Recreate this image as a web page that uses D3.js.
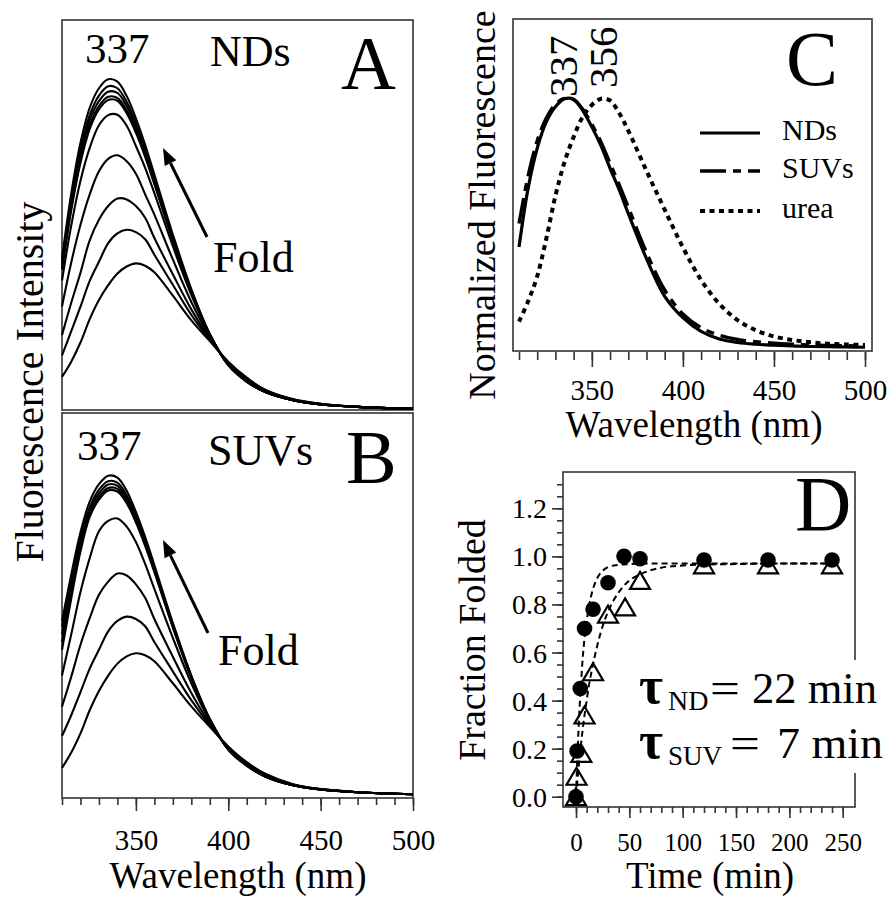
<!DOCTYPE html>
<html><head><meta charset="utf-8">
<script src="https://cdn.jsdelivr.net/npm/d3@7"></script>
<style>
body{margin:0;background:#fff}
svg{display:block}
</style></head><body>
<svg id="fig" width="894" height="898"></svg>
<script>
// ---- emission wavelengths (nm) shared by the spectra in A and B
const wavelengths = [310, 315, 320, 325, 330, 335, 340, 345, 350, 355, 360, 370, 380, 390, 400, 410, 420, 435, 450, 470, 500];

// ---- A: folding into nanodiscs, intensity (a.u.) at each wavelength
const spectraND = [
  [39.0, 55.5, 68.5, 77.5, 82.5, 84.8, 84.2, 80.5, 74.8, 68.0, 60.4, 45.0, 31.0, 19.5, 11.5, 7.3, 4.6, 2.5, 1.4, 0.8, 0.3],
  [37.9, 54.0, 66.7, 75.6, 80.6, 83.0, 82.5, 79.0, 73.5, 66.9, 59.5, 44.5, 30.7, 19.4, 11.5, 7.3, 4.6, 2.5, 1.4, 0.8, 0.3],
  [37.2, 52.9, 65.4, 74.3, 79.2, 81.6, 81.3, 77.9, 72.6, 66.1, 58.9, 44.1, 30.5, 19.4, 11.6, 7.3, 4.6, 2.5, 1.4, 0.8, 0.3],
  [36.4, 51.8, 64.1, 72.9, 77.9, 80.3, 80.0, 76.8, 71.6, 65.4, 58.3, 43.7, 30.3, 19.3, 11.6, 7.3, 4.6, 2.5, 1.4, 0.8, 0.3],
  [36.0, 51.2, 63.4, 72.1, 77.1, 79.5, 79.3, 76.1, 71.1, 64.9, 57.9, 43.4, 30.2, 19.3, 11.6, 7.4, 4.7, 2.5, 1.4, 0.8, 0.3],
  [33.2, 47.3, 58.8, 67.2, 73.0, 75.6, 75.7, 72.9, 67.7, 62.1, 55.6, 42.0, 29.5, 19.2, 11.7, 7.5, 4.7, 2.6, 1.4, 0.8, 0.3],
  [26.5, 37.8, 47.5, 55.3, 61.2, 64.4, 65.3, 63.8, 60.6, 55.3, 50.1, 38.6, 27.7, 18.8, 11.9, 7.7, 4.8, 2.6, 1.5, 0.8, 0.3],
  [19.2, 27.5, 35.2, 43.5, 48.8, 52.3, 54.2, 54.0, 52.3, 49.3, 44.1, 34.8, 25.8, 18.3, 12.1, 8.0, 5.0, 2.7, 1.5, 0.8, 0.3],
  [14.0, 20.2, 26.5, 33.1, 38.0, 42.8, 45.3, 46.2, 45.6, 43.8, 39.8, 32.1, 24.4, 18.0, 12.2, 8.1, 5.1, 2.7, 1.6, 0.8, 0.3],
  [8.5, 12.4, 17.3, 23.3, 28.2, 32.0, 35.0, 36.8, 37.6, 37.0, 35.3, 29.3, 23.0, 17.7, 12.4, 8.3, 5.2, 2.8, 1.6, 0.8, 0.3]
];

// ---- B: folding into small unilamellar vesicles
const spectraSUV = [
  [46.0, 58.0, 69.0, 77.0, 81.5, 83.7, 83.2, 79.8, 74.3, 67.8, 60.5, 45.5, 31.8, 20.5, 12.6, 8.4, 5.6, 3.3, 2.2, 1.5, 1.0],
  [44.5, 56.3, 67.6, 75.5, 80.1, 82.3, 81.9, 78.6, 73.3, 67.0, 59.8, 45.1, 31.6, 20.5, 12.6, 8.4, 5.6, 3.3, 2.2, 1.5, 1.0],
  [42.5, 54.8, 66.4, 74.6, 79.1, 81.4, 81.1, 77.9, 72.7, 66.5, 59.4, 44.8, 31.5, 20.4, 12.6, 8.4, 5.6, 3.3, 2.2, 1.5, 1.0],
  [40.5, 53.3, 65.2, 73.7, 78.2, 80.5, 80.3, 77.2, 72.1, 65.9, 59.0, 44.5, 31.3, 20.4, 12.7, 8.5, 5.6, 3.3, 2.2, 1.5, 1.0],
  [38.5, 51.8, 64.0, 73.0, 77.5, 79.9, 79.6, 76.6, 71.6, 65.5, 58.7, 44.3, 31.2, 20.4, 12.7, 8.5, 5.7, 3.3, 2.2, 1.5, 1.0],
  [31.8, 42.5, 53.5, 62.3, 69.3, 72.0, 72.6, 70.5, 66.5, 60.8, 54.3, 41.6, 29.8, 20.0, 12.8, 8.6, 5.8, 3.4, 2.2, 1.5, 1.0],
  [23.7, 31.5, 39.8, 46.7, 52.8, 56.2, 58.3, 57.8, 55.5, 52.0, 46.5, 36.7, 27.3, 19.4, 13.0, 8.9, 6.0, 3.5, 2.3, 1.5, 1.0],
  [16.1, 21.5, 27.5, 33.6, 38.5, 43.3, 46.0, 47.1, 46.5, 44.6, 40.5, 32.9, 25.4, 18.9, 13.2, 9.1, 6.2, 3.5, 2.3, 1.5, 1.0],
  [7.8, 11.8, 16.8, 22.8, 27.8, 31.8, 34.9, 36.8, 37.6, 37.1, 35.5, 29.8, 23.8, 18.5, 13.4, 9.3, 6.3, 3.6, 2.3, 1.5, 1.0]
];

// ---- C: normalized end-point spectra
const wavelengthsNorm = [310, 315, 320, 325, 330, 335, 340, 345, 350, 355, 360, 365, 370, 380, 390, 400, 410, 420, 430, 440, 450, 460, 470, 480, 490, 500];
const normND   = [0.406, 0.64, 0.80, 0.905, 0.965, 0.997, 0.995, 0.95, 0.885, 0.81, 0.72, 0.635, 0.54, 0.36, 0.21, 0.125, 0.07, 0.04, 0.026, 0.019, 0.015, 0.012, 0.010, 0.009, 0.008, 0.007];
const normSUV  = [0.50, 0.69, 0.83, 0.92, 0.975, 0.998, 0.993, 0.955, 0.895, 0.825, 0.74, 0.655, 0.565, 0.385, 0.235, 0.14, 0.085, 0.055, 0.038, 0.029, 0.023, 0.019, 0.016, 0.014, 0.013, 0.012];
const normUrea = [0.109, 0.19, 0.29, 0.44, 0.61, 0.745, 0.845, 0.925, 0.972, 0.997, 0.99, 0.94, 0.87, 0.71, 0.555, 0.405, 0.275, 0.18, 0.115, 0.075, 0.05, 0.036, 0.027, 0.021, 0.018, 0.016];
const legendC = ["NDs", "SUVs", "urea"];

// ---- D: folding kinetics (time in min, fraction folded)
const suvTime = [0, 1, 4, 8, 16, 30, 45, 60, 120, 180, 240];
const suvFrac = [0.0, 0.19, 0.45, 0.70, 0.78, 0.89, 1.0, 0.99, 0.985, 0.985, 0.985];
const ndTime  = [0, 0.5, 5, 8, 16, 30, 46, 60, 120, 180, 240];
const ndFrac  = [0.0, 0.085, 0.18, 0.34, 0.52, 0.76, 0.79, 0.90, 0.965, 0.965, 0.965];
// fitted single-exponential curves, sampled
const suvFitTime = [0, 1, 2, 3, 4, 5, 6, 8, 10, 12, 15, 20, 25, 30, 40, 50, 60, 120, 180, 245];
const suvFitFrac = [0, 0.13, 0.24, 0.34, 0.42, 0.49, 0.56, 0.66, 0.73, 0.79, 0.85, 0.91, 0.94, 0.955, 0.965, 0.968, 0.97, 0.97, 0.97, 0.97];
const ndFitTime  = [0, 2, 4, 6, 8, 10, 12, 15, 20, 25, 30, 35, 40, 50, 60, 70, 80, 100, 120, 150, 180, 245];
const ndFitFrac  = [0, 0.10, 0.19, 0.27, 0.34, 0.40, 0.46, 0.53, 0.63, 0.71, 0.77, 0.815, 0.85, 0.90, 0.925, 0.942, 0.953, 0.962, 0.966, 0.968, 0.97, 0.97];

const wlTicks = [350, 400, 450, 500];
const timeTicks = [0, 50, 100, 150, 200, 250];
const fracTicks = [0, 0.2, 0.4, 0.6, 0.8, 1.0, 1.2];

// ------------------------------------------------------------------
const SERIF = '"Liberation Serif", Tinos, "Times New Roman", Times, "DejaVu Serif", serif';
const svg = d3.select("#fig").attr("font-family", SERIF);
svg.append("rect").attr("width", 894).attr("height", 898).attr("fill", "#fff");

const frameColor = "#333";
function frame(x0, y0, x1, y1) {
  svg.append("rect").attr("x", x0).attr("y", y0).attr("width", x1 - x0).attr("height", y1 - y0)
    .attr("fill", "none").attr("stroke", frameColor).attr("stroke-width", 1.6);
}
function label(txt, x, y, size, opts = {}) {
  const t = svg.append("text").attr("x", x).attr("y", y).attr("font-size", size)
    .attr("font-family", SERIF).attr("fill", "#000").text(txt);
  if (opts.anchor) t.attr("text-anchor", opts.anchor);
  if (opts.rotate) t.attr("transform", `rotate(-90,${x},${y})`);
  if (opts.len) t.attr("textLength", opts.len).attr("lengthAdjust", "spacingAndGlyphs");
  if (opts.bold) t.attr("font-weight", "bold");
  return t;
}
function styleAxis(g) {
  g.attr("font-family", SERIF);
  g.select(".domain").remove();
  g.selectAll(".tick line").attr("stroke", frameColor).attr("stroke-width", 1.6);
  g.selectAll(".tick text").attr("font-family", SERIF).attr("fill", "#000");
}
function arrow(x0, y0, x1, y1) {
  const ang = Math.atan2(y1 - y0, x1 - x0), L = 17, W = 6.5;
  const bx = x1 - L * Math.cos(ang), by = y1 - L * Math.sin(ang);
  svg.append("line").attr("x1", x0).attr("y1", y0).attr("x2", bx).attr("y2", by)
    .attr("stroke", "#000").attr("stroke-width", 3);
  svg.append("path").attr("fill", "#000").attr("d",
    `M${x1},${y1}L${bx + W * Math.sin(ang)},${by - W * Math.cos(ang)}L${bx - W * Math.sin(ang)},${by + W * Math.cos(ang)}Z`);
}

// ---- Panels A and B
const xAB = d3.scaleLinear().domain([310, 500]).range([62, 413]);
const yA = d3.scaleLinear().domain([0, 100]).range([410, 20]);
const yB = d3.scaleLinear().domain([0, 100]).range([798, 413]);

function drawSpectra(set, yS) {
  const line = d3.line().x((d, i) => xAB(wavelengths[i])).y(d => yS(d)).curve(d3.curveCatmullRom.alpha(0.5));
  svg.append("g").selectAll("path").data(set).join("path")
    .attr("d", line).attr("fill", "none").attr("stroke", "#000").attr("stroke-width", 2.1);
}
frame(62, 20, 413, 410);
drawSpectra(spectraND, yA);
frame(62, 413, 413, 798);
drawSpectra(spectraSUV, yB);

svg.append("g").attr("transform", "translate(0,798)")
  .call(d3.axisBottom(xAB).tickValues(d3.range(310, 501, 10)).tickSize(7).tickFormat(""))
  .call(styleAxis);
svg.append("g").attr("transform", "translate(0,798)")
  .call(d3.axisBottom(xAB).tickValues(wlTicks).tickSize(13).tickFormat(d3.format("d")))
  .call(styleAxis)
  .call(g => g.selectAll(".tick text").attr("font-size", 29).attr("y", 52).attr("dy", null));

label("337", 85, 63, 43);
label("NDs", 210, 66, 44);
label("A", 341, 89, 76);
label("Fold", 213, 272, 44);
arrow(207, 237, 163, 148);

label("337", 77, 460, 43);
label("SUVs", 208, 465, 44);
label("B", 346, 483, 76);
label("Fold", 218, 665, 44);
arrow(208, 633, 163, 540);

label("Fluorescence Intensity", 43, 382, 40, { anchor: "middle", rotate: true });
label("Wavelength (nm)", 238, 888, 37, { anchor: "middle" });

// ---- Panel C
const xC = d3.scaleLinear().domain([310, 500]).range([519, 865]);
const yC = d3.scaleLinear().domain([0, 1]).range([349, 98]);
frame(513, 19, 872, 351);
const lineC = xs => d3.line().x((d, i) => xC(xs[i])).y(d => yC(d)).curve(d3.curveCatmullRom.alpha(0.5));
const styleC = [
  { data: normUrea, dash: "5,4.5", w: 4 },
  { data: normSUV, dash: "26,7,8,7", w: 3.4 },
  { data: normND, dash: null, w: 3.2 }
];
styleC.forEach(s => {
  svg.append("path").attr("d", lineC(wavelengthsNorm)(s.data)).attr("fill", "none")
    .attr("stroke", "#000").attr("stroke-width", s.w).attr("stroke-dasharray", s.dash);
});
svg.append("g").attr("transform", "translate(0,352)")
  .call(d3.axisBottom(xC).tickValues(d3.range(310, 501, 10)).tickSize(8).tickFormat(""))
  .call(styleAxis);
svg.append("g").attr("transform", "translate(0,352)")
  .call(d3.axisBottom(xC).tickValues(wlTicks).tickSize(15).tickFormat(d3.format("d")))
  .call(styleAxis)
  .call(g => g.selectAll(".tick text").attr("font-size", 29).attr("y", 48).attr("dy", null));

const legY = [133, 171, 211];
const legDash = [null, "26,7,8,7", "5,4.5"];
const legW = [3.2, 3.4, 4];
legendC.forEach((name, i) => {
  svg.append("line").attr("x1", 700).attr("x2", 760).attr("y1", legY[i]).attr("y2", legY[i])
    .attr("stroke", "#000").attr("stroke-width", legW[i]).attr("stroke-dasharray", legDash[i]);
  label(name, 782, legY[i] + 7, 30);
});
label("337", 577, 97, 41, { rotate: true });
label("356", 617, 88, 41, { rotate: true });
label("C", 786, 85, 78);
label("Normalized Fluorescence", 495, 205, 38, { anchor: "middle", rotate: true });
label("Wavelength (nm)", 694, 437, 37, { anchor: "middle" });

// ---- Panel D
const xD = d3.scaleLinear().domain([0, 250]).range([576, 842.7]);
const yD = d3.scaleLinear().domain([0, 1.2]).range([796.7, 508.3]);
frame(563, 472, 855, 807);

svg.append("g").attr("transform", "translate(563,0)")
  .call(d3.axisLeft(yD).tickValues(d3.range(0, 1.3001, 0.05)).tickSize(6).tickFormat(""))
  .call(styleAxis);
svg.append("g").attr("transform", "translate(563,0)")
  .call(d3.axisLeft(yD).tickValues(fracTicks).tickSize(11).tickFormat(d3.format(".1f")))
  .call(styleAxis)
  .call(g => g.selectAll(".tick text").attr("font-size", 28).attr("x", -16).attr("dy", "0.34em"));
svg.append("g").attr("transform", "translate(0,807)")
  .call(d3.axisBottom(xD).tickValues(d3.range(0, 251, 10)).tickSize(6).tickFormat(""))
  .call(styleAxis);
svg.append("g").attr("transform", "translate(0,807)")
  .call(d3.axisBottom(xD).tickValues(timeTicks).tickSize(11).tickFormat(d3.format("d")))
  .call(styleAxis)
  .call(g => g.selectAll(".tick text").attr("font-size", 25).attr("y", 44).attr("dy", null));

const fitLine = xs => d3.line().x((d, i) => xD(xs[i])).y(d => yD(d)).curve(d3.curveMonotoneX);
[[suvFitTime, suvFitFrac], [ndFitTime, ndFitFrac]].forEach(([t, f]) => {
  svg.append("path").attr("d", fitLine(t)(f)).attr("fill", "none")
    .attr("stroke", "#000").attr("stroke-width", 2).attr("stroke-dasharray", "6,4");
});
// open triangles (nanodiscs)
const triW = 20, triH = 17;
svg.append("g").selectAll("path").data(ndFrac).join("path")
  .attr("d", (d, i) => {
    const cx = xD(ndTime[i]), cy = yD(d);
    return `M${cx},${cy - triH / 2}L${cx + triW / 2},${cy + triH / 2}L${cx - triW / 2},${cy + triH / 2}Z`;
  })
  .attr("fill", "none").attr("stroke", "#000").attr("stroke-width", 2.2).attr("stroke-linejoin", "miter");
// filled circles (vesicles)
svg.append("g").selectAll("circle").data(suvFrac).join("circle")
  .attr("cx", (d, i) => xD(suvTime[i])).attr("cy", d => yD(d)).attr("r", 7.8).attr("fill", "#000");

label("D", 795, 530, 78);
// time constants, on a white patch that interrupts the right frame edge
svg.append("rect").attr("x", 636).attr("y", 660).attr("width", 258).attr("height", 113).attr("fill", "#fff");
label("τ", 639, 703, 52, { bold: true });
label("ND", 668, 710, 28);
label("=", 710, 703, 44, { len: 30 });
label("22 min", 752, 703, 44, { len: 125 });
label("τ", 639, 758, 52, { bold: true });
label("SUV", 668, 765, 27);
label("=", 730, 758, 44, { len: 30 });
label("7 min", 777, 758, 44, { len: 106 });
label("Fraction Folded", 485, 640, 38, { anchor: "middle", rotate: true });
label("Time (min)", 710, 888, 37, { anchor: "middle" });
</script>
</body></html>
